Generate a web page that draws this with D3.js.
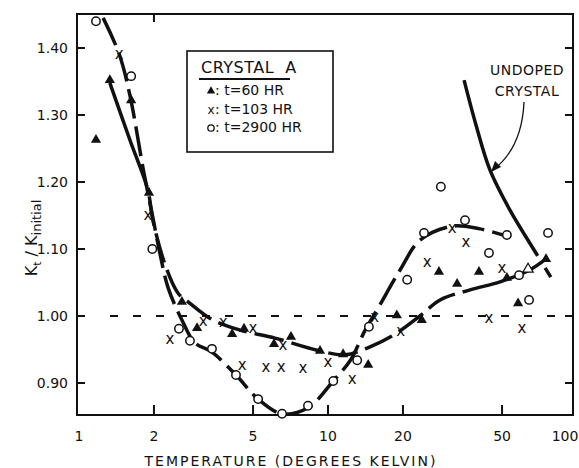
<!DOCTYPE html>
<html><head><meta charset="utf-8">
<script src="https://cdn.jsdelivr.net/npm/d3@7"></script>
<style>
html,body{margin:0;padding:0;background:#fff;}
svg text{font-family:"DejaVu Sans",sans-serif;fill:#111;}
</style></head>
<body><svg id="c" width="579" height="468"></svg>
<script>
// ---- data ----
const xTicks = [1, 2, 5, 10, 20, 50, 100];
const yTicks = [0.90, 1.00, 1.10, 1.20, 1.30, 1.40];

// t = 60 HR (filled triangles)
const t60T = [1.17,1.33,1.62,1.91,2.59,2.98,4.12,4.60,6.07,7.10,9.29,11.5,14.5,18.9,23.8,27.9,33.0,40.4,52.3,58.0,75.1];
const t60K = [1.263,1.352,1.322,1.184,1.021,0.982,0.973,0.981,0.958,0.969,0.948,0.943,0.927,1.001,0.994,1.066,1.048,1.066,1.057,1.019,1.085];
const openTriT = [63.6];
const openTriK = [1.070];

// t = 103 HR (crosses)
const t103T = [1.45,1.89,2.32,3.15,3.79,5.0,6.6,4.52,5.64,6.48,7.94,10.0,12.5,15.4,19.6,25.0,31.5,35.8,44.3,50.0,60.1];
const t103K = [1.391,1.151,0.966,0.993,0.991,0.982,0.957,0.927,0.924,0.924,0.922,0.931,0.906,0.998,0.978,1.081,1.131,1.110,0.997,1.072,0.982];

// t = 2900 HR (open circles)
const t2900T = [1.17,1.62,1.97,2.52,2.79,3.42,4.27,5.24,6.54,8.31,10.5,13.1,14.6,20.8,24.3,28.4,35.5,44.3,52.3,58.5,64.2,76.5];
const t2900K = [1.440,1.358,1.100,0.981,0.963,0.951,0.912,0.876,0.854,0.866,0.903,0.934,0.984,1.054,1.124,1.193,1.143,1.094,1.121,1.061,1.024,1.124];

// hand-drawn curves
const curve60T = [1.33,1.60,1.89,1.98,2.22,2.50,2.79,3.45,4.43,6.12,9.03,11.7,14.75,18.6,23.4,28.2,37.2,49.1,64.8,74.4];
const curve60K = [1.348,1.263,1.188,1.143,1.076,1.034,1.019,0.994,0.979,0.967,0.949,0.942,0.954,0.973,1.000,1.024,1.039,1.051,1.069,1.084];
const curve2900T = [1.25,1.45,1.60,1.82,1.97,2.12,2.28,2.59,2.92,3.42,4.27,5.24,6.54,8.31,10.5,12.3,14.1,15.9,19.5,23.4,31.5,40.8,52.3];
const curve2900K = [1.445,1.391,1.330,1.215,1.151,1.091,1.042,0.994,0.960,0.946,0.912,0.876,0.854,0.863,0.903,0.934,0.979,1.012,1.069,1.113,1.134,1.130,1.119];
const undopedT = [35.2,39.3,44.7,53.8,68.4,78.5];
const undopedK = [1.352,1.285,1.218,1.158,1.094,1.058];
const refLine = 1.00;

const legendTitle = "CRYSTAL  A";
const legendLabels = [": t=60 HR", ": t=103 HR", ": t=2900 HR"];
const xTitle = "TEMPERATURE (DEGREES KELVIN)";

// ---- layout ----
const L = 77, R = 573, T = 14, B = 415;
const svg = d3.select("#c");
const x = d3.scaleLog().domain([1, 100]).range([79, 577]);
const y = d3.scaleLinear().domain([0.90, 1.40]).range([383, 48]);
const zip = (a, b) => a.map((v, i) => [v, b[i]]);

// frame
svg.append("rect").attr("x", L).attr("y", T).attr("width", R - L).attr("height", B - T)
  .attr("fill", "none").attr("stroke", "#111").attr("stroke-width", 2);

// y ticks (inward both sides) and labels
yTicks.forEach(v => {
  svg.append("line").attr("x1", L).attr("x2", L + 8).attr("y1", y(v)).attr("y2", y(v)).attr("stroke", "#111").attr("stroke-width", 2);
  svg.append("line").attr("x1", R - 8).attr("x2", R).attr("y1", y(v)).attr("y2", y(v)).attr("stroke", "#111").attr("stroke-width", 2);
  svg.append("text").attr("x", 68).attr("y", y(v) + 5).attr("text-anchor", "end")
    .attr("font-size", 14).text(v.toFixed(2));
});
// x ticks
xTicks.forEach(v => {
  const px = x(v);
  if (v > 1 && v < 100) {
    svg.append("line").attr("x1", px).attr("x2", px).attr("y1", B).attr("y2", B - 10).attr("stroke", "#111").attr("stroke-width", 2);
  }
  if (v === 2) {
    svg.append("line").attr("x1", px).attr("x2", px).attr("y1", T).attr("y2", T + 8).attr("stroke", "#111").attr("stroke-width", 2);
  }
  svg.append("text").attr("x", Math.min(px, 565)).attr("y", 441).attr("text-anchor", "middle")
    .attr("font-size", 14).text(v);
});

// dashed reference line
svg.append("line").attr("x1", 110).attr("x2", R).attr("y1", y(refLine)).attr("y2", y(refLine))
  .attr("stroke", "#111").attr("stroke-width", 1.8).attr("stroke-dasharray", "8,15");

// curves
const line = d3.line().x(d => x(d[0])).y(d => y(d[1])).curve(d3.curveCatmullRom.alpha(0.5));
svg.append("path").attr("d", line(zip(curve2900T, curve2900K))).attr("fill", "none")
  .attr("stroke", "#111").attr("stroke-width", 3.5).attr("stroke-dasharray", "30,8");
svg.append("path").attr("d", line(zip(curve60T, curve60K))).attr("fill", "none")
  .attr("stroke", "#111").attr("stroke-width", 3.5).attr("stroke-dasharray", "110,10,30,8,30,8,30,8,30,8,30,8,30,8,30,8,30,8,30,8,30,8,30,8,90,8,30,8");
svg.append("path").attr("d", line(zip(undopedT, undopedK))).attr("fill", "none")
  .attr("stroke", "#111").attr("stroke-width", 3.5).attr("stroke-dasharray", "192,14,14,200");

// markers
const tri = d3.symbol().type(d3.symbolTriangle).size(45);
svg.append("g").selectAll("path").data(zip(t60T, t60K)).join("path")
  .attr("d", tri).attr("transform", d => `translate(${x(d[0])},${y(d[1])})`).attr("fill", "#111");
svg.append("g").selectAll("path").data(zip(openTriT, openTriK)).join("path")
  .attr("d", tri).attr("transform", d => `translate(${x(d[0])},${y(d[1])})`).attr("fill", "#fff").attr("stroke", "#111").attr("stroke-width", 1.3);
svg.append("g").selectAll("text").data(zip(t103T, t103K)).join("text")
  .attr("x", d => x(d[0])).attr("y", d => y(d[1]) + 5).attr("text-anchor", "middle")
  .attr("font-size", 15).text("x");
svg.append("g").selectAll("circle").data(zip(t2900T, t2900K)).join("circle")
  .attr("cx", d => x(d[0])).attr("cy", d => y(d[1])).attr("r", 4.2)
  .attr("fill", "#fff").attr("stroke", "#111").attr("stroke-width", 1.5);

// legend
svg.append("rect").attr("x", 187).attr("y", 51).attr("width", 146).attr("height", 101)
  .attr("fill", "#fff").attr("stroke", "#111").attr("stroke-width", 1.6);
svg.append("text").attr("x", 201).attr("y", 73).attr("font-size", 16).attr("letter-spacing", 0.5).attr("xml:space", "preserve").text(legendTitle);
svg.append("line").attr("x1", 199).attr("x2", 290).attr("y1", 79).attr("y2", 79).attr("stroke", "#111").attr("stroke-width", 2);
const rowsY = [95, 114, 132];
svg.append("path").attr("d", d3.symbol().type(d3.symbolTriangle).size(30)()).attr("transform", `translate(211,${rowsY[0] - 4})`).attr("fill", "#111");
svg.append("text").attr("x", 211).attr("y", rowsY[1]).attr("text-anchor", "middle").attr("font-size", 12).text("x");
svg.append("circle").attr("cx", 211).attr("cy", rowsY[2] - 4).attr("r", 3.2).attr("fill", "none").attr("stroke", "#111").attr("stroke-width", 1.3);
legendLabels.forEach((t, i) => {
  svg.append("text").attr("x", 215).attr("y", rowsY[i]).attr("font-size", 14).text(t);
});

// undoped label + arrow
svg.append("text").attr("x", 527).attr("y", 75).attr("text-anchor", "middle").attr("font-size", 14).attr("letter-spacing", 0.5).text("UNDOPED");
svg.append("text").attr("x", 527).attr("y", 96).attr("text-anchor", "middle").attr("font-size", 14).attr("letter-spacing", 0.5).text("CRYSTAL");
svg.append("path").attr("d", "M524,102 Q522,148 493,170").attr("fill", "none").attr("stroke", "#111").attr("stroke-width", 1.3);
svg.append("path").attr("d", "M491,172 L495,161 L501,167 Z").attr("fill", "#111");

// axis titles
svg.append("text").attr("x", 291).attr("y", 466).attr("text-anchor", "middle").attr("font-size", 14).attr("letter-spacing", 2).text(xTitle);
const yt = svg.append("text").attr("transform", "translate(37,238) rotate(-90)").attr("text-anchor", "middle").attr("font-size", 16);
yt.append("tspan").text("K");
yt.append("tspan").attr("font-size", 11).attr("dy", 4).text("t");
yt.append("tspan").attr("dy", -4).text(" / K");
yt.append("tspan").attr("font-size", 13).attr("dy", 4).text("initial");
</script></body></html>
